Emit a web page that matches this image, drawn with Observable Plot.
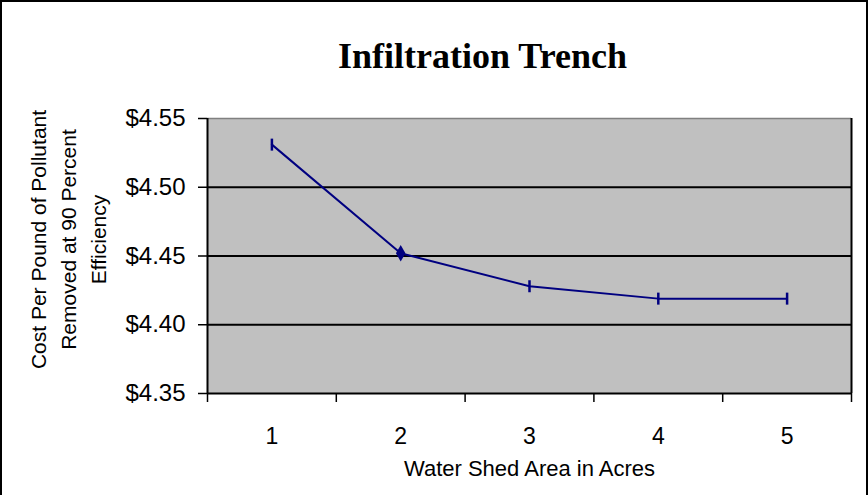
<!DOCTYPE html>
<html><head><meta charset="utf-8">
<script src="https://cdn.jsdelivr.net/npm/d3@7"></script>
<script src="https://cdn.jsdelivr.net/npm/@observablehq/plot@0.6"></script>
<style>
body{margin:0;background:#fff;}
#wrap{position:relative;width:868px;height:495px;overflow:hidden;}
#chart svg{display:block;}
#border{position:absolute;left:0;top:0;width:864px;height:600px;border:2px solid #000;pointer-events:none;}
</style></head><body>
<div id="wrap"><div id="chart"></div><div id="border"></div></div>
<script>
const acres = [1, 2, 3, 4, 5];
const cost = [4.531, 4.452, 4.428, 4.419, 4.419];
const markers = ["tick", "diamond", "tick", "tick", "tick"];
const yTicks = [4.35, 4.40, 4.45, 4.50, 4.55];
const gridValues = [4.40, 4.45, 4.50];
const xBounds = [0.5, 1.5, 2.5, 3.5, 4.5, 5.5];
const title = "Infiltration Trench";
const xLabel = "Water Shed Area in Acres";
const yLabel = ["Cost Per Pound of Pollutant", "Removed at 90 Percent", "Efficiency"];

const data = acres.map((a, i) => ({acres: a, cost: cost[i], marker: markers[i]}));
const tickSymbol = {draw(ctx, size) { const h = Math.sqrt(size / Math.PI); ctx.moveTo(0, -h); ctx.lineTo(0, h); }};

const chart = Plot.plot({
  width: 868, height: 495,
  marginLeft: 207, marginRight: 17, marginTop: 118, marginBottom: 102,
  style: {fontFamily: "'Liberation Sans', Arial, sans-serif", background: "transparent", color: "#000", overflow: "visible"},
  x: {domain: [0.5, 5.5]},
  y: {domain: [4.35, 4.55]},
  marks: [
    Plot.frame({fill: "#c0c0c0", stroke: "none"}),
    Plot.ruleY([4.55], {stroke: "#808080", strokeWidth: 1.5}),
    Plot.ruleX([5.5], {stroke: "#000", strokeWidth: 2}),
    Plot.ruleY(gridValues, {stroke: "#000", strokeWidth: 2}),
    Plot.ruleX([0.5], {stroke: "#000", strokeWidth: 2}),
    Plot.ruleY([4.35], {stroke: "#000", strokeWidth: 2}),
    Plot.axisY({ticks: yTicks, tickFormat: d => "$" + d.toFixed(2), tickSize: 9, tickPadding: 13, fontSize: 24, label: null, strokeWidth: 1.5}),
    Plot.axisX({ticks: xBounds, tickFormat: () => "", tickSize: 9, label: null, strokeWidth: 1.5}),
    Plot.text(acres, {x: d => d, frameAnchor: "bottom", lineAnchor: "middle", textAnchor: "middle", dy: 43, fontSize: 23}),
    Plot.text([xLabel], {frameAnchor: "bottom", lineAnchor: "middle", textAnchor: "middle", dy: 75, fontSize: 22}),
    Plot.text([title], {frameAnchor: "top", lineAnchor: "middle", textAnchor: "middle", dx: -47, dy: -62, fontSize: 36, fontWeight: "bold", fontFamily: "'Liberation Serif', 'Times New Roman', serif"}),
    Plot.text([yLabel.join("\n")], {frameAnchor: "left", lineAnchor: "middle", textAnchor: "middle", rotate: -90, dx: -141, dy: -16.5, fontSize: 21, lineHeight: 1.43}),
    Plot.line(data, {x: "acres", y: "cost", stroke: "#000080", strokeWidth: 2}),
    Plot.dot(data.filter(d => d.marker === "tick"), {x: "acres", y: "cost", symbol: tickSymbol, r: 6, stroke: "#000080", strokeWidth: 2.5, fill: "none"}),
    Plot.dot(data.filter(d => d.marker === "diamond"), {x: "acres", y: "cost", symbol: "diamond", r: 5, fill: "#000080", stroke: "none"})
  ]
});
document.getElementById("chart").appendChild(chart);
</script>
</body></html>
